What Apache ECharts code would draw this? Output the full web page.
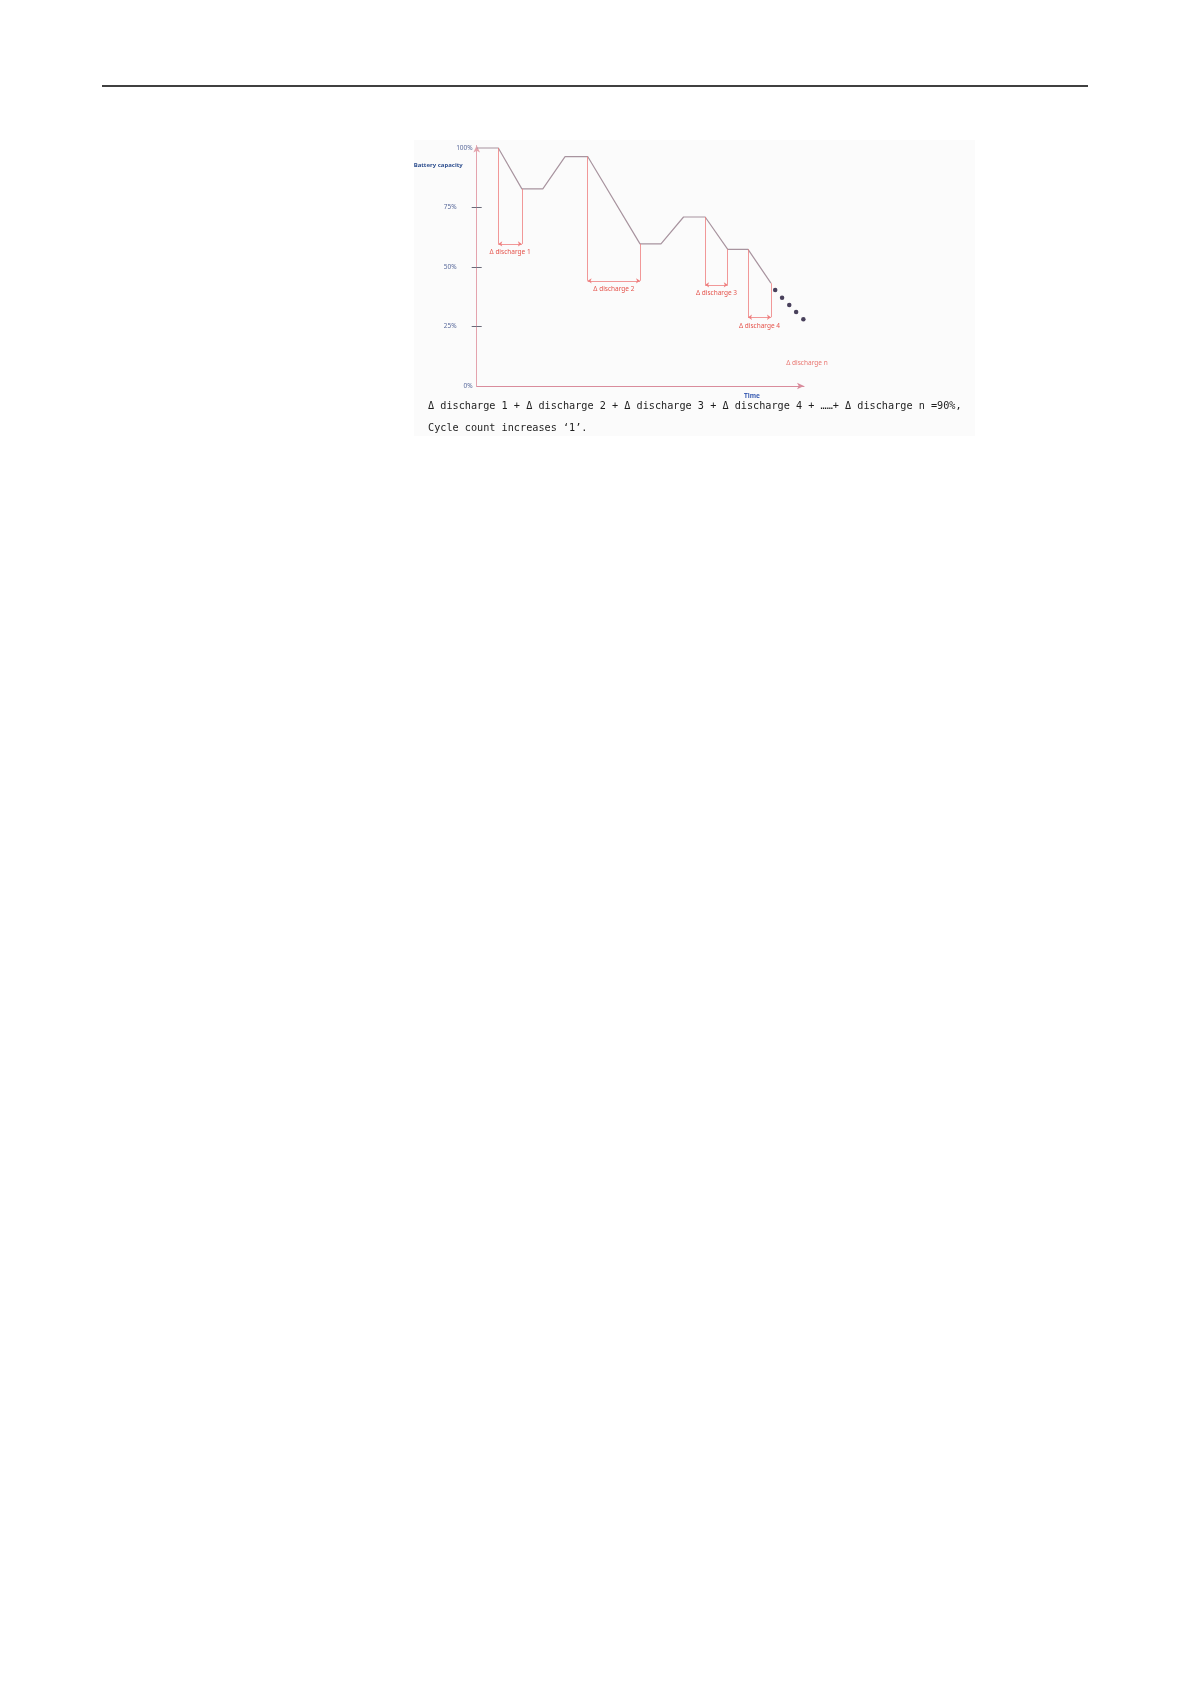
<!DOCTYPE html>
<html>
<head>
<meta charset="utf-8">
<script src="https://cdn.jsdelivr.net/npm/echarts@6/dist/echarts.min.js"></script>
<style>
  html, body { margin: 0; padding: 0; background: #ffffff; }
  #chart { width: 1191px; height: 1684px; }
</style>
</head>
<body>
<div id="chart"></div>
<script>
// ---- data ----
// capacity curve (time in arbitrary units 0..100, capacity in %)
const timeValues     = [0, 6.6, 13.8, 20.2, 27.0, 33.9, 49.9, 56.3, 63.2, 69.8, 76.7, 82.9, 89.9];
const capacityValues = [100, 100, 82.8, 82.8, 96.4, 96.4, 59.7, 59.7, 71, 71, 57.4, 57.4, 43.2];
// continuing trend (dots)
const trendTime     = [91.2, 93.3, 95.5, 97.6, 99.8];
const trendCapacity = [40.3, 37.1, 34.0, 31.1, 28.0];
// discharge intervals: index of start/end points on the curve, and arrow level (%)
const dischargeLabels   = ['Δ discharge 1', 'Δ discharge 2', 'Δ discharge 3', 'Δ discharge 4'];
const dischargeStartIdx = [1, 5, 9, 11];
const dischargeEndIdx   = [2, 6, 10, 12];
const dischargeLevel    = [59.7, 44.2, 42.5, 28.9];
// last (n-th) discharge label
const lastDischargeLabel = 'Δ discharge n';
const lastDischargePoint = [100.9, 9.7];
// y-axis ticks
const yTickValues = [0, 25, 50, 75, 100];
// texts
const yAxisTitle = 'Battery capacity';
const xAxisTitle = 'Time';
const noteLines = [
  'Δ discharge 1 + Δ discharge 2 + Δ discharge 3 + Δ discharge 4 + ……+ Δ discharge n =90%,',
  'Cycle count increases ‘1’.'
];

// ---- build chart ----
const chart = echarts.init(document.getElementById('chart'), null, { renderer: 'canvas' });

const redLine = { color: '#ef7f7f', width: 0.8, type: 'solid' };
const markData = [];
dischargeLabels.forEach((name, i) => {
  const x1 = timeValues[dischargeStartIdx[i]];
  const y1 = capacityValues[dischargeStartIdx[i]];
  const x2 = timeValues[dischargeEndIdx[i]];
  const y2 = capacityValues[dischargeEndIdx[i]];
  const lv = dischargeLevel[i];
  markData.push([
    { coord: [x1, y1], symbol: 'none', label: { show: false } },
    { coord: [x1, lv], symbol: 'none' }
  ]);
  markData.push([
    { coord: [x2, y2], symbol: 'none', label: { show: false } },
    { coord: [x2, lv], symbol: 'none' }
  ]);
  markData.push([
    { coord: [x1, lv], symbol: 'arrow', symbolSize: [4, 4], name: name,
      label: { show: true, formatter: name, position: 'insideMiddleBottom', distance: 5,
               color: '#e5534b', fontSize: 6.5, fontFamily: 'Noto Sans' } },
    { coord: [x2, lv], symbol: 'arrow', symbolSize: [4, 4] }
  ]);
});

const option = {
  backgroundColor: '#ffffff',
  animation: false,
  graphic: [
    { type: 'line', shape: { x1: 102, y1: 86, x2: 1088, y2: 86 },
      style: { stroke: '#000000', lineWidth: 1.6 }, z: 1 },
    { type: 'rect', shape: { x: 414, y: 140, width: 561, height: 296 },
      style: { fill: '#fbfbfb' }, z: -10 },
    { type: 'text', x: 428, y: 406.7, z: 5,
      style: { text: noteLines[0], fill: '#1e1e1e', font: '10.2px "DejaVu Sans Mono"',
               textVerticalAlign: 'middle', verticalAlign: 'middle' } },
    { type: 'text', x: 428, y: 428.3, z: 5,
      style: { text: noteLines[1], fill: '#1e1e1e', font: '10.2px "DejaVu Sans Mono"',
               textVerticalAlign: 'middle', verticalAlign: 'middle' } }
  ],
  grid: { left: 476.7, right: 387, top: 145.6, bottom: 1298, containLabel: false },
  xAxis: {
    type: 'value', min: 0, max: 100,
    name: xAxisTitle, nameLocation: 'end', nameGap: -52,
    nameTextStyle: { color: '#3d5fb3', fontSize: 6.5, fontWeight: 'bold', fontFamily: 'Noto Sans',
                     align: 'center', verticalAlign: 'top', padding: [7, 0, 0, 0] },
    axisLine: { show: true, lineStyle: { color: '#d98c9c', width: 1 },
                symbol: ['none', 'arrow'], symbolSize: [5, 7] },
    axisTick: { show: false },
    axisLabel: { show: false },
    splitLine: { show: false }
  },
  yAxis: [
    {
      type: 'value', min: 0, max: 101, position: 'left',
      name: yAxisTitle, nameLocation: 'end', nameGap: -20,
      nameTextStyle: { color: '#2e4f8f', fontSize: 6, fontWeight: 'bold', fontFamily: 'Noto Sans',
                       align: 'right', verticalAlign: 'middle', padding: [0, 14, 0, 0] },
      axisLine: { show: true, lineStyle: { color: '#e4a3ad', width: 1 },
                  symbol: ['none', 'arrow'], symbolSize: [5, 7] },
      axisTick: { show: true, length: 5, customValues: [25, 50, 75],
                  lineStyle: { color: '#6a6a78', width: 1 } },
      axisLabel: {
        show: true, margin: 4, customValues: yTickValues,
        formatter: v => (v === 0 || v === 100) ? '{n|' + v + '%}' : '{f|' + v + '%}',
        rich: {
          n: { color: '#5b6b9c', fontSize: 6.5, fontFamily: 'Noto Sans' },
          f: { color: '#5b6b9c', fontSize: 6.5, fontFamily: 'Noto Sans', padding: [0, 16, 0, 0] }
        }
      },
      splitLine: { show: false }
    },
    {
      type: 'value', min: 0, max: 101, position: 'left', offset: 0,
      axisLine: { show: false },
      axisTick: { show: true, inside: true, length: 5, customValues: [25, 50, 75],
                  lineStyle: { color: '#6a6a78', width: 1 } },
      axisLabel: { show: false },
      splitLine: { show: false }
    }
  ],
  series: [
    {
      type: 'line', yAxisIndex: 0,
      data: timeValues.map((t, i) => [t, capacityValues[i]]),
      symbol: 'none',
      lineStyle: { color: '#a8949f', width: 1.2 },
      markLine: {
        silent: true, symbol: ['none', 'none'],
        lineStyle: redLine,
        label: { show: false },
        data: markData
      },
      z: 3
    },
    {
      type: 'scatter', yAxisIndex: 0,
      data: trendTime.map((t, i) => [t, trendCapacity[i]]),
      symbol: 'circle', symbolSize: 4.5,
      itemStyle: { color: '#1c1233' },
      clip: false, z: 4
    },
    {
      type: 'scatter', yAxisIndex: 0, clip: false,
      data: [{ value: lastDischargePoint, name: lastDischargeLabel }],
      symbol: 'circle', symbolSize: 0.1,
      itemStyle: { color: 'rgba(0,0,0,0)' },
      label: { show: true, position: 'inside', formatter: '{b}', color: '#e5534b',
               fontSize: 6.5, fontFamily: 'Noto Sans' },
      z: 4
    }
  ]
};
chart.setOption(option);
</script>
</body>
</html>
